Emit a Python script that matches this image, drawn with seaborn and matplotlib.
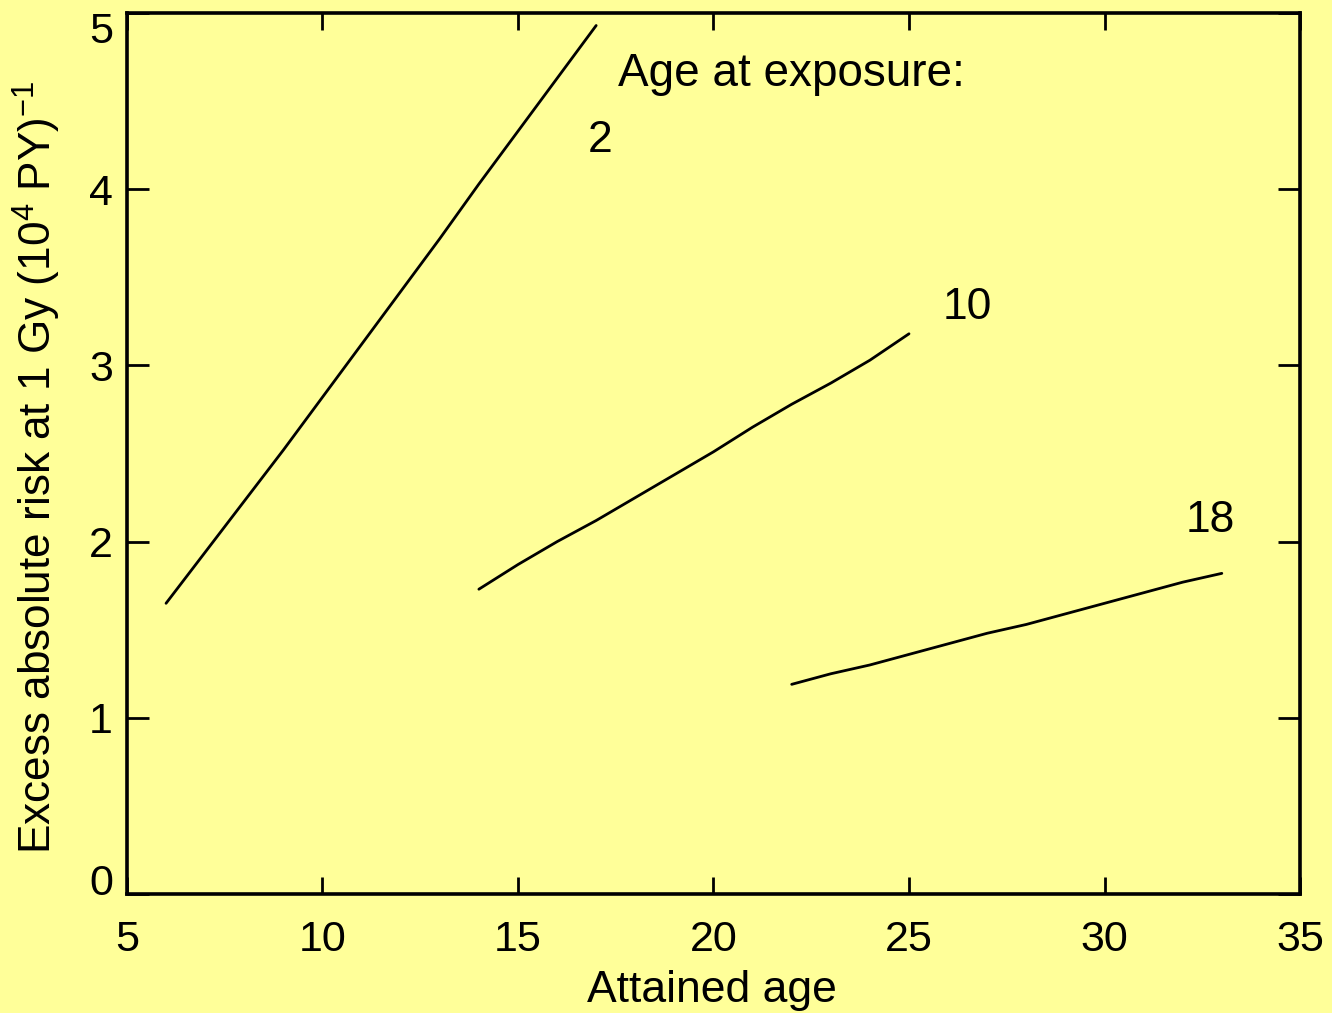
import numpy as np
import pandas as pd
import matplotlib
matplotlib.use("Agg")
import matplotlib.pyplot as plt
import matplotlib.transforms as mtransforms
import seaborn as sns

# Data
ages_exp2 = [6, 7, 8, 9, 10, 11, 12, 13, 14, 15, 16, 17]
ear_exp2 = [1.65, 1.94, 2.23, 2.52, 2.82, 3.12, 3.42, 3.72, 4.03, 4.33, 4.63, 4.93]

ages_exp10 = [14, 15, 16, 17, 18, 19, 20, 21, 22, 23, 24, 25]
ear_exp10 = [1.73, 1.87, 2.00, 2.12, 2.25, 2.38, 2.51, 2.65, 2.78, 2.90, 3.03, 3.18]

ages_exp18 = [22, 23, 24, 25, 26, 27, 28, 29, 30, 31, 32, 33]
ear_exp18 = [1.19, 1.25, 1.30, 1.36, 1.42, 1.48, 1.53, 1.59, 1.65, 1.71, 1.77, 1.82]

exposure_labels = ["2", "10", "18"]
x_ticks = [5, 10, 15, 20, 25, 30, 35]
y_ticks = [0, 1, 2, 3, 4, 5]

df = pd.concat([
    pd.DataFrame({"age": ages_exp2, "ear": ear_exp2, "exp": "2"}),
    pd.DataFrame({"age": ages_exp10, "ear": ear_exp10, "exp": "10"}),
    pd.DataFrame({"age": ages_exp18, "ear": ear_exp18, "exp": "18"}),
], ignore_index=True)

sns.set_theme(style="ticks")
bg = "#FFFF99"
plt.rcParams["font.family"] = ["Liberation Sans", "DejaVu Sans"]
plt.rcParams["mathtext.fontset"] = "custom"
plt.rcParams["mathtext.rm"] = "Liberation Sans"
plt.rcParams["text.color"] = "black"
plt.rcParams["axes.labelcolor"] = "black"

fig = plt.figure(figsize=(13.32, 10.13), dpi=100, facecolor=bg)
ax = fig.add_axes([0.0953, 0.1175, 0.976 - 0.0953, 0.987 - 0.1175])
ax.set_facecolor(bg)

sns.lineplot(data=df, x="age", y="ear", hue="exp", units="exp", estimator=None,
             palette={k: "black" for k in exposure_labels}, linewidth=2.0,
             legend=False, ax=ax, sort=False)

ax.set_xlim(5, 35)
ax.set_ylim(0, 5)
ax.set_xticks(x_ticks)
ax.set_yticks(y_ticks)
ax.tick_params(direction="in", width=2.0, top=True, right=True,
               labelsize=31, colors="black")
ax.tick_params(axis="x", length=12.5, pad=19)
ax.tick_params(axis="y", length=16, pad=10)
for s in ax.spines.values():
    s.set_linewidth(2.6)
    s.set_color("black")
    s.set_visible(True)

ax.set_xlabel("Attained age", fontsize=32)
ax.set_ylabel(r"Excess absolute risk at 1 Gy (10$^4$ PY)$^{-1}$", fontsize=31.8)
ax.xaxis.set_label_coords(0.499, -0.086)
ax.yaxis.set_label_coords(-0.0546, 0.485)

# end y tick labels are nudged inward as in the reference
fig.canvas.draw()
ylabels = ax.get_yticklabels()
ylabels[0].set_transform(ylabels[0].get_transform() +
                         mtransforms.ScaledTranslation(0, 14 / 100, fig.dpi_scale_trans))
ylabels[-1].set_transform(ylabels[-1].get_transform() +
                          mtransforms.ScaledTranslation(0, -14 / 100, fig.dpi_scale_trans))

ax.text(17.56, 4.585, "Age at exposure:", fontsize=33, ha="left", va="baseline")
ax.text(17.1, 4.28, exposure_labels[0], fontsize=32, ha="center", va="center")
ax.text(26.5, 3.33, exposure_labels[1], fontsize=32, ha="center", va="center")
ax.text(32.7, 2.12, exposure_labels[2], fontsize=32, ha="center", va="center")

fig.savefig("out.png", dpi=100, facecolor=bg)
